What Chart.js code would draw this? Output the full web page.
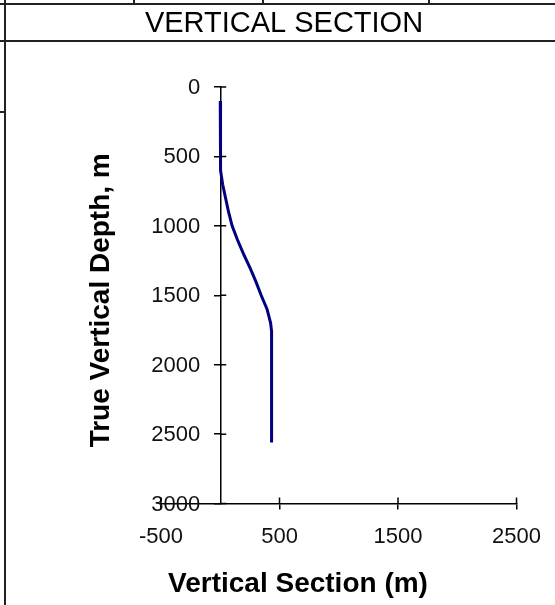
<!DOCTYPE html>
<html>
<head>
<meta charset="utf-8">
<script src="https://cdn.jsdelivr.net/npm/chart.js@4/dist/chart.umd.min.js"></script>
<style>
  html, body { margin: 0; padding: 0; background: #fff; }
  #wrap { width: 555px; height: 605px; position: relative; }
</style>
</head>
<body>
<div id="wrap"><canvas id="vsChart"></canvas></div>
<script>
// vertical section (m) vs true vertical depth (m)
const vsValues  = [0, 0, 5, 20, 45, 70, 100, 145, 195, 250, 300, 345, 395, 425, 433, 433];
const tvdValues = [100, 500, 600, 700, 800, 900, 1000, 1100, 1200, 1300, 1400, 1500, 1600, 1700, 1760, 2560];
const xTicks = [-500, 500, 1500, 2500];
const yTicks = [0, 500, 1000, 1500, 2000, 2500, 3000];

const chartTitle = "VERTICAL SECTION";
const xTitle = "Vertical Section (m)";
const yTitle = "True Vertical Depth, m";

const points = vsValues.map((v, i) => ({ x: v, y: tvdValues[i] }));
const fontFamily = "'Liberation Sans', Arial, sans-serif";

// frame, titles, y labels and the inner half of the crossing ticks
const sheetPlugin = {
  id: "sheet",
  afterDraw(chart) {
    const ctx = chart.ctx;
    const area = chart.chartArea;
    const xs = chart.scales.x;
    const ys = chart.scales.y;
    ctx.save();

    // worksheet cell borders
    ctx.strokeStyle = "#222";
    ctx.lineWidth = 2;
    ctx.beginPath();
    ctx.moveTo(0, 4); ctx.lineTo(555, 4);
    ctx.moveTo(0, 41); ctx.lineTo(555, 41);
    ctx.moveTo(5, 0); ctx.lineTo(5, 605);
    ctx.moveTo(0, 112); ctx.lineTo(5, 112);
    [134, 263, 429].forEach(x => { ctx.moveTo(x, 0); ctx.lineTo(x, 4); });
    ctx.stroke();

    ctx.fillStyle = "#000";
    ctx.textAlign = "center";
    ctx.textBaseline = "middle";
    ctx.font = "29px " + fontFamily;
    ctx.fillText(chartTitle, 284, 24);

    // axis titles
    ctx.font = "bold 28px " + fontFamily;
    ctx.fillText(xTitle, 298, area.bottom + 81);
    ctx.save();
    ctx.translate(101, (area.top + area.bottom) / 2 + 5);
    ctx.rotate(-Math.PI / 2);
    ctx.fillText(yTitle, 0, 0);
    ctx.restore();

    // y tick labels sit left of the axis drawn at x = 0
    const axisX = xs.getPixelForValue(0);
    ctx.font = "22px " + fontFamily;
    ctx.fillStyle = "#111";
    ctx.textAlign = "right";
    ys.ticks.forEach(t => {
      ctx.fillText(String(t.value), axisX - 20, ys.getPixelForValue(t.value) + 1);
    });

    // ticks cross the axis lines
    ctx.strokeStyle = "#000";
    ctx.lineWidth = 1.5;
    ctx.beginPath();
    ys.ticks.forEach(t => {
      const py = ys.getPixelForValue(t.value);
      ctx.moveTo(axisX, py); ctx.lineTo(axisX + 6, py);
    });
    xs.ticks.forEach(t => {
      const px = xs.getPixelForValue(t.value);
      ctx.moveTo(px, area.bottom); ctx.lineTo(px, area.bottom - 6);
    });
    ctx.stroke();
    ctx.restore();
  }
};

new Chart(document.getElementById("vsChart"), {
  type: "scatter",
  data: {
    datasets: [{
      data: points,
      showLine: true,
      borderColor: "#000080",
      borderWidth: 3,
      pointRadius: 0,
      tension: 0,
    }],
  },
  options: {
    responsive: true,
    maintainAspectRatio: false,
    animation: false,
    layout: { padding: { left: 161, right: 38, top: 87, bottom: 41 } },
    plugins: { legend: { display: false }, tooltip: { enabled: false } },
    scales: {
      x: {
        type: "linear",
        min: -500,
        max: 2500,
        afterBuildTicks: s => { s.ticks = xTicks.map(v => ({ value: v })); },
        grid: { drawOnChartArea: false, tickLength: 6, color: "#000", lineWidth: 1.5 },
        border: { color: "#000", width: 1.5 },
        ticks: {
          font: { family: fontFamily, size: 22 },
          color: "#111",
          padding: 14,
          maxRotation: 0,
          callback: v => String(v),
        },
      },
      y: {
        type: "linear",
        reverse: true,
        min: 0,
        max: 3000,
        position: { x: 0 },
        afterBuildTicks: s => { s.ticks = yTicks.map(v => ({ value: v })); },
        grid: { drawOnChartArea: false, tickLength: 6, color: "#000", lineWidth: 1.5 },
        border: { color: "#000", width: 1.5 },
        ticks: { display: false },
      },
    },
  },
  plugins: [sheetPlugin],
});
</script>
</body>
</html>
